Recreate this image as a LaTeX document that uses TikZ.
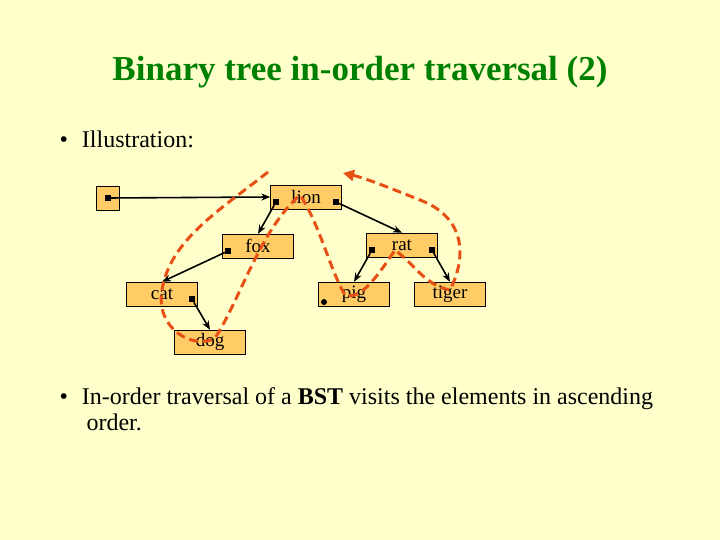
\documentclass[tikz,border=0pt]{standalone}
\usepackage{fontspec}
\setmainfont{Liberation Serif}
\usetikzlibrary{arrows.meta}
\definecolor{bg}{RGB}{255,255,204}
\definecolor{boxfill}{RGB}{255,204,102}
\definecolor{titlegreen}{RGB}{0,128,0}
\definecolor{walk}{RGB}{230,80,20}
\begin{document}
\begin{tikzpicture}[x=1pt, y=-1pt]
                \tikzstyle{cell} = [draw, fill=boxfill, minimum width=71pt, minimum height=24pt, inner sep=0pt, font=\fontsize{19}{19}\selectfont]
                \tikzstyle{dot} = [fill=black, inner sep=0pt, minimum size=6pt]
                \tikzstyle{link} = [-{Stealth[length=9pt, width=7pt]}, line width=1.6pt]

                \fill[bg] (0,0) rectangle (720,540);
                \useasboundingbox (0,0) rectangle (720,540);

                % Title and text
                \node[text=titlegreen, font=\fontsize{35}{35}\selectfont\bfseries] (title) at (360,72) {Binary tree in-order traversal (2)};
                \node[anchor=west, font=\fontsize{24}{24}\selectfont] (item1) at (56,139) {\textbullet\hspace{14pt}Illustration:};
                \node[anchor=north west, align=left, font=\fontsize{24}{26}\selectfont] (item2) at (56,384) {\textbullet\hspace{14pt}In-order traversal of a \textbf{BST} visits the elements in ascending\\\hspace{27pt}order.};

                % Tree cells
                \node[cell, minimum width=23pt] (root) at (108,198) {};
                \node[cell] (lion) at (306,197) {lion};
                \node[cell] (fox) at (258,246) {fox};
                \node[cell] (rat) at (402,245) {rat};
                \node[cell] (cat) at (162,294) {cat};
                \node[cell] (pig) at (354,294) {pig};
                \node[cell] (tiger) at (450,294) {tiger};
                \node[cell] (dog) at (210,342) {dog};

                % Pointer dots
                \node[dot] (rootp) at (108,198) {};
                \node[dot] (lionl) at (276,202) {};
                \node[dot] (lionr) at (336,202) {};
                \node[dot] (foxl) at (228,251) {};
                \node[dot] (ratl) at (372,250) {};
                \node[dot] (ratr) at (432,250) {};
                \node[dot] (catr) at (192,299) {};
                \node[dot, circle] (pigl) at (324,302) {};

                % Links
                \draw[link] (rootp) -- (lion.west);
                \draw[link] (lionl) -- (fox.north);
                \draw[link] (lionr) -- (rat.north);
                \draw[link] (foxl) -- (cat.north);
                \draw[link] (ratl) -- (pig.north);
                \draw[link] (ratr) -- (tiger.north);
                \draw[link] (catr) -- (dog.north);

                % Traversal
                \draw[walk, line width=3pt, dash pattern=on 9pt off 5pt, -{Triangle[length=11pt, width=11pt]}]
                    (268,172) .. controls (220,210) and (170,240) .. (162,290)
                    .. controls (155,330) and (195,350) .. (215,338)
                    .. controls (240,300) and (260,230) .. (300,195)
                    .. controls (320,225) and (330,270) .. (345,295)
                    .. controls (360,300) and (375,280) .. (395,250)
                    .. controls (415,265) and (425,285) .. (450,290)
                    .. controls (470,250) and (460,215) .. (420,200)
                    .. controls (390,188) and (365,178) .. (343,173);
            \end{tikzpicture}
\end{document}
